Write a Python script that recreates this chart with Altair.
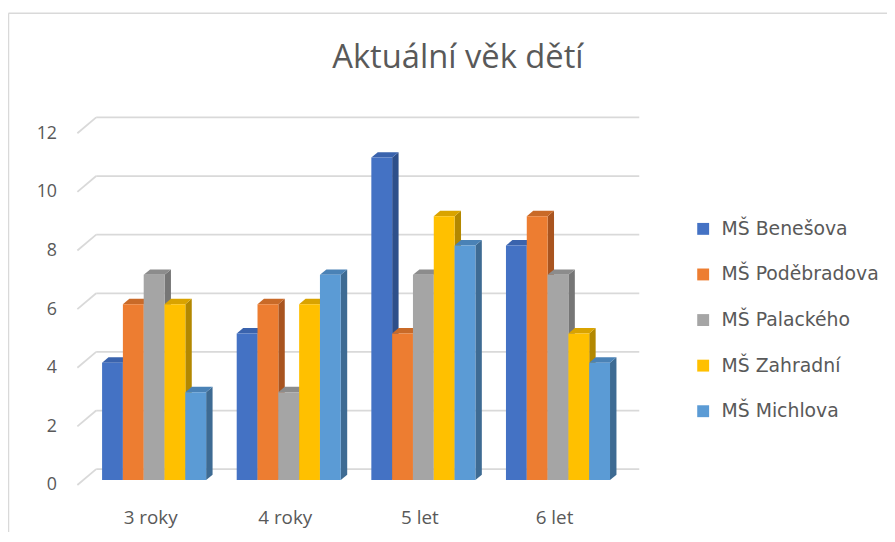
import json
import altair as alt
import pandas as pd

title_text = "Aktuální věk dětí"
categories = ["3 roky", "4 roky", "5 let", "6 let"]
series = ["MŠ Benešova", "MŠ Poděbradova", "MŠ Palackého", "MŠ  Zahradní", "MŠ Michlova"]
benesova = [4, 5, 11, 8]
podebradova = [6, 6, 5, 9]
palackeho = [7, 3, 7, 7]
zahradni = [6, 6, 9, 5]
michlova = [3, 7, 8, 4]
y_ticks = [0, 2, 4, 6, 8, 10, 12]

front_colors = ["#4472C4", "#ED7D31", "#A5A5A5", "#FFC000", "#5B9BD5"]
top_colors = ["#3A63AD", "#C96A28", "#8C8C8C", "#D9A300", "#4A82B6"]
side_colors = ["#2E4F8A", "#A9541F", "#767676", "#B38800", "#3E6B93"]

W, H = 557, 355
X_DOMAIN = [-0.57, 3.53]
Y_MAX = 12
px_per_unit = W / (X_DOMAIN[1] - X_DOMAIN[0])
bar_w = 21 / px_per_unit
depth_x = 6.5 / px_per_unit
depth_y = 5.5 / (H / Y_MAX)

values = [benesova, podebradova, palackeho, zahradni, michlova]
rows, side_rows, top_rows = [], [], []
for j, (s, vals) in enumerate(zip(series, values)):
    for i, (c, v) in enumerate(zip(categories, vals)):
        x0 = i - 2.5 * bar_w + j * bar_w
        x1 = x0 + bar_w
        key = f"{j}-{i}"
        rows.append({"kategorie": c, "skola": s, "pocet": v, "x0": x0, "x1": x1})
        # side face: parallelogram receding to the back-right
        for k in (0, 1):
            side_rows.append({"key": key, "skola": s, "xx": x1 + k * depth_x,
                              "lo": k * depth_y, "hi": v + k * depth_y})
        # top face
        for xx, lo, hi in ((x0, v, v), (x0 + depth_x, v, v + depth_y),
                           (x1, v, v + depth_y), (x1 + depth_x, v + depth_y, v + depth_y)):
            top_rows.append({"key": key, "skola": s, "xx": xx, "lo": lo, "hi": hi})
df = pd.DataFrame(rows)
side_df = pd.DataFrame(side_rows)
top_df = pd.DataFrame(top_rows)
grid_df = pd.DataFrame({"v": y_ticks})
one = pd.DataFrame({"a": [0]})

GRID = "#D9D9D9"
TXT = "#595959"

label_expr = json.dumps(categories) + "[round(datum.value)]"
x_scale = alt.Scale(domain=X_DOMAIN, nice=False, zero=False)
x_axis = alt.Axis(values=list(range(len(categories))), labelExpr=label_expr,
                  domain=False, ticks=False, grid=False, labelPadding=29, labelOffset=-4,
                  labelFont="Open Sans", labelFontSize=19, labelColor=TXT)
y_scale = alt.Scale(domain=[0, Y_MAX], nice=False, padding=0)
y_axis = alt.Axis(values=y_ticks, domain=False, ticks=False, grid=False,
                  labelPadding=21, labelOffset=5, labelFont="Open Sans",
                  labelFontSize=18, labelColor=TXT)

grid_back = alt.Chart(grid_df).mark_rule(color=GRID, strokeWidth=1.8, yOffset=-11).encode(
    y=alt.Y("v:Q", scale=y_scale, title=None, axis=y_axis), x=alt.value(19), x2=alt.value(567))
grid_diag = alt.Chart(grid_df).mark_rule(color=GRID, strokeWidth=1.8, yOffset=5, y2Offset=-11).encode(
    y=alt.Y("v:Q", scale=y_scale, title=None, axis=y_axis), y2="v:Q", x=alt.value(0), x2=alt.value(19))


def face(data, colors):
    return alt.Chart(data).mark_area(opacity=1).encode(
        x=alt.X("xx:Q", scale=x_scale, title=None, axis=x_axis),
        y=alt.Y("hi:Q", scale=y_scale, title=None, axis=y_axis), y2="lo:Q",
        detail="key:N",
        color=alt.Color("skola:N", sort=series, scale=alt.Scale(domain=series, range=colors), legend=None))


side = face(side_df, side_colors)
top = face(top_df, top_colors)

front = alt.Chart(df).mark_bar().encode(
    x=alt.X("x0:Q", scale=x_scale, title=None, axis=x_axis), x2="x1:Q",
    y=alt.Y("pocet:Q", scale=y_scale, title=None, axis=y_axis), y2=alt.datum(0),
    color=alt.Color("skola:N", sort=series, scale=alt.Scale(domain=series, range=front_colors),
                    legend=alt.Legend(title=None, orient="none", legendX=622, legendY=92,
                                      symbolType="square", symbolSize=144, symbolStrokeWidth=0,
                                      labelFont="DejaVu Sans", labelFontSize=19, labelColor=TXT,
                                      labelOffset=9, rowPadding=26, padding=0)))

title = alt.Chart(one).mark_text(font="Open Sans", fontSize=33, color=TXT, align="center",
                                 baseline="alphabetic").encode(
    x=alt.value(384), y=alt.value(-61), text=alt.value(title_text))

frame_top = alt.Chart(one).mark_rule(color=GRID, strokeWidth=1.5).encode(
    x=alt.value(-69.5), x2=alt.value(817), y=alt.value(-116))
frame_left = alt.Chart(one).mark_rule(color=GRID, strokeWidth=1.5).encode(
    x=alt.value(-69.5), y=alt.value(-116), y2=alt.value(420))

chart = alt.layer(grid_back, grid_diag, side, top, front, title, frame_top, frame_left).resolve_scale(
    color="independent"
).properties(
    width=W, height=H,
    autosize=alt.AutoSizeParams(type="none"),
    padding={"left": 70, "top": 119, "right": 260, "bottom": 50},
).configure_view(stroke=None)

chart.save("out.html", embed_options={"renderer": "svg", "actions": False})
